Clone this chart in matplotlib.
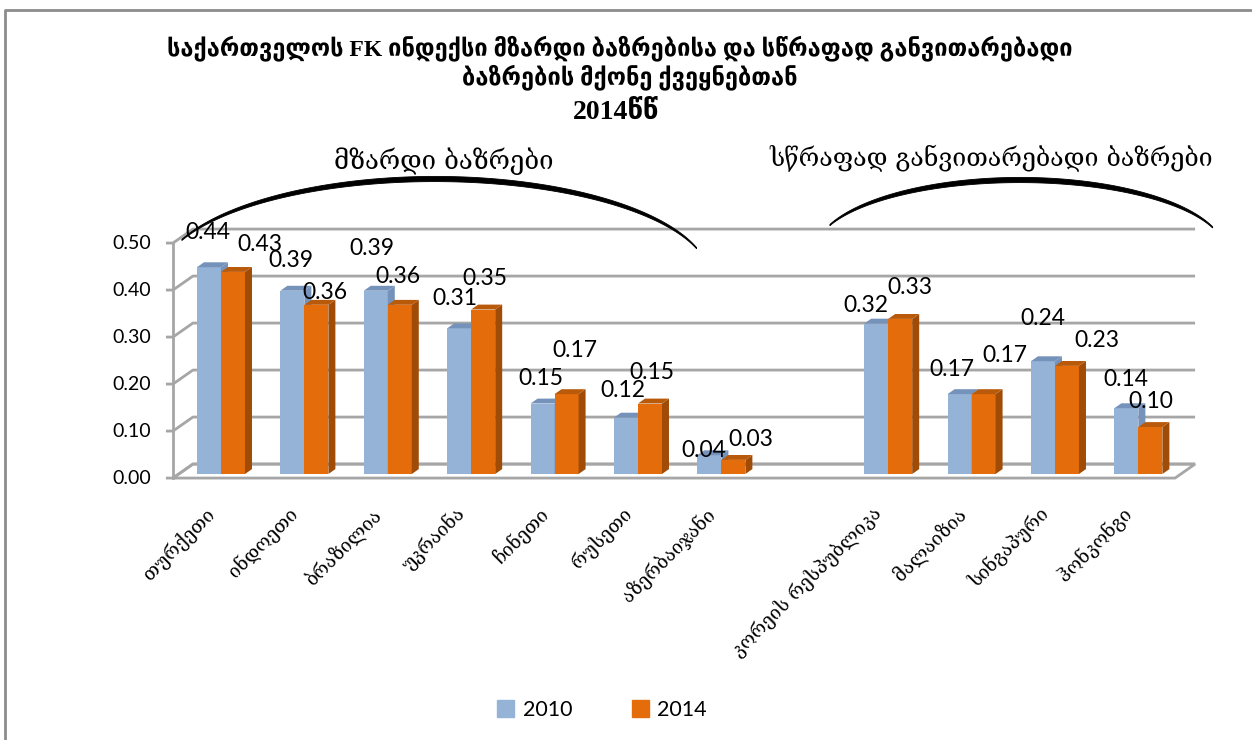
import numpy as np
import matplotlib.pyplot as plt
from matplotlib.patches import Polygon, Patch

# ---- data ----
countries = ['თურქეთი', 'ინდოეთი', 'ბრაზილია', 'უკრაინა', 'ჩინეთი', 'რუსეთი',
             'აზერბაიჯანი', '', 'კორეის რესპუბლიკა', 'მალაიზია', 'სინგაპური', 'ჰონკონგი']
fk_2010 = [0.44, 0.39, 0.39, 0.31, 0.15, 0.12, 0.04, np.nan, 0.32, 0.17, 0.24, 0.14]
fk_2014 = [0.43, 0.36, 0.36, 0.35, 0.17, 0.15, 0.03, np.nan, 0.33, 0.17, 0.23, 0.10]
years = ['2010', '2014']
y_ticks = [0.0, 0.1, 0.2, 0.3, 0.4, 0.5]

title_lines = ['საქართველოს FK ინდექსი მზარდი ბაზრებისა და სწრაფად განვითარებადი',
               'ბაზრების მქონე ქვეყნებთან', '2014წწ']
group_names = ['მზარდი ბაზრები', 'სწრაფად განვითარებადი ბაზრები']

# data label offsets (pixels) as Excel placed them
off_2010 = [(-1, 35), (-2, 30), (-4, 42), (-4, 30), (-2, 25), (-3, 27), (-6, 5), None,
            (-10, 18), (-8, 25), (0, 43), (-1, 29)]
off_2014 = [(27, 27), (9, 12), (-2, 28), (2, 31), (8, 44), (2, 31), (17, 20), None,
            (10, 31), (21, 39), (30, 25), (0, 25)]

# ---- style ----
blue = ('#95B3D7', '#7592BA', '#7592BA')      # front, top, side
orange = ('#E46C0A', '#B95A0B', '#A04C07')
grid_c = '#A6A6A6'
PXX, PXY = 1 / 83.4, 1 / 470                  # data units per pixel
DX, DY = 20 * PXX, 14 * PXY                   # full depth of the 3d box
BAR_POS, BAR_THK = 0.29, 0.35
w = 24 * PXX

fig = plt.figure(figsize=(12.52, 7.40), dpi=100)
ax = fig.add_axes([162.6 / 1252, (740 - 488.1) / 740, 12.5 * 83.4 / 1252, 0.59 * 470 / 740])
ax.set_xlim(-0.7, 11.8)
ax.set_ylim(-0.03, 0.56)
ax.patch.set_visible(False)
for s in ax.spines.values():
    s.set_visible(False)
ax.set_yticks([])
ax.set_xticks([])

x = np.arange(len(countries))
fx, fy = -BAR_POS * DX, -BAR_POS * DY          # front plane offset
bx, by = (1 - BAR_POS) * DX, (1 - BAR_POS) * DY  # back plane offset
x_left = -0.576 - fx
x_right = 11.68 - bx

# floor
floor = Polygon([(x_left + fx, fy), (x_right + fx, fy), (x_right + bx, by), (x_left + bx, by)],
                closed=True, facecolor='white', edgecolor=grid_c, lw=2, zorder=1)
ax.add_patch(floor)
# walls / gridlines
for v in y_ticks:
    ax.plot([x_left + fx - 7 * PXX, x_left + fx, x_left + bx, x_right + bx],
            [v + fy, v + fy, v + by, v + by], color=grid_c, lw=2, zorder=1,
            solid_capstyle='butt')
    ax.text(x_left + fx - 22 * PXX, v + fy, f'{v:.2f}', ha='right', va='center',
            fontsize=14, family='Lato')
ax.plot([x_left + fx] * 2, [fy, y_ticks[-1] + fy], color=grid_c, lw=2, zorder=1)


def bars3d(xs, vals, cols, offs, zo):
    dx, dy = BAR_THK * DX, BAR_THK * DY
    ax.bar(xs, vals, width=w, color=cols[0], zorder=zo)
    for xi, v, o in zip(xs, vals, offs):
        if np.isnan(v):
            continue
        l, r = xi - w / 2, xi + w / 2
        ax.add_patch(Polygon([(r, 0), (r + dx, dy), (r + dx, v + dy), (r, v)],
                             facecolor=cols[2], edgecolor='none', zorder=zo))
        ax.add_patch(Polygon([(l, v), (l + dx, v + dy), (r + dx, v + dy), (r, v)],
                             facecolor=cols[1], edgecolor='none', zorder=zo))
        ax.annotate(f'{v:.2f}', (xi, v), xytext=o, textcoords='offset pixels',
                    ha='center', va='center', fontsize=16.5, family='Lato', zorder=10)


bars3d(x - w / 2, fk_2010, blue, off_2010, 3)
bars3d(x + w / 2, fk_2014, orange, off_2014, 4)

# category labels, rotated like Excel's
for xi, name in zip(x, countries):
    ax.annotate(name, (xi, 0), xytext=(-16, -30), textcoords='offset pixels',
                rotation=45, ha='right', va='top', rotation_mode='anchor',
                fontsize=13.5, family=['DejaVu Serif', 'DejaVu Sans'])

fig.legend(handles=[Patch(color=blue[0]), Patch(color=orange[0])], labels=years,
           loc='center', bbox_to_anchor=(602 / 1252, 1 - 710 / 740), ncol=2, frameon=False,
           handlelength=0.8, handleheight=0.8, handletextpad=0.4, columnspacing=2.75,
           prop={'family': 'Lato', 'size': 15.5})

# ---- overlay in pixel coordinates: title, arcs, frame ----
ov = fig.add_axes([0, 0, 1, 1])
ov.set_xlim(0, 1252)
ov.set_ylim(740, 0)
ov.axis('off')

tfam = ['Liberation Serif', 'DejaVu Sans']
ov.text(620, 55, title_lines[0], ha='center', va='baseline', fontsize=17,
        fontweight='bold', family=tfam)
ov.text(630, 84, title_lines[1], ha='center', va='baseline', fontsize=17,
        fontweight='bold', family=tfam)
ov.text(616, 119, title_lines[2], ha='center', va='baseline', fontsize=20,
        fontweight='bold', family=tfam)

gfam = ['DejaVu Serif', 'DejaVu Sans']
ov.text(444, 161, group_names[0], ha='center', va='center', fontsize=18.5, family=gfam)
ov.text(991, 158, group_names[1], ha='center', va='center', fontsize=18, family=gfam)


def swoosh(cx, cy, a, b, t0, t1):
    t = np.radians(np.linspace(t0, t1, 300))
    s = np.linspace(0, 1, 300)
    xs = cx + a * np.cos(t)
    ys = cy + b * np.sin(t)
    h = 1.2 + 4.0 * np.sin(np.pi * s)
    ov.fill(np.r_[xs, xs[::-1]], np.r_[ys - h / 2, (ys + h / 2)[::-1]], color='black', lw=0.6)


swoosh(435, 279, 275, 100, 203, 342)
swoosh(1020, 252, 205, 72, 202, 340)

ov.plot([5, 5, 1252], [740, 10, 10], color='#8C8C8C', lw=2)

fig.savefig('out.png', dpi=100)
